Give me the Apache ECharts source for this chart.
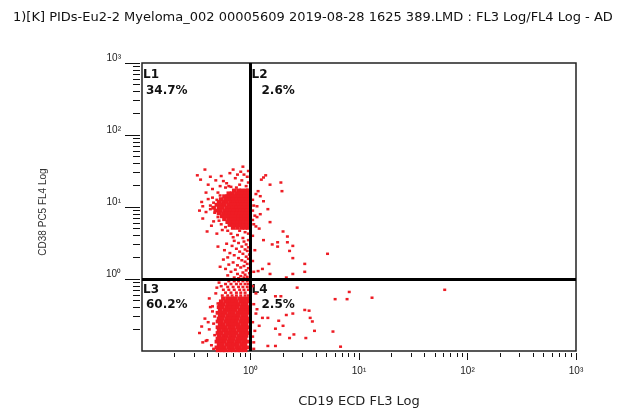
<!DOCTYPE html>
<html><head><meta charset="utf-8">
<script src="https://cdn.jsdelivr.net/npm/echarts@6/dist/echarts.min.js"></script>
<style>html,body{margin:0;padding:0;background:#fff}#c{width:638px;height:417px}</style>
</head><body><div id="c"></div>
<script>
const titleText = '1)[K] PIDs-Eu2-2 Myeloma_002 00005609 2019-08-28 1625 389.LMD : FL3 Log/FL4 Log - AD';
const xName = 'CD19 ECD FL3 Log';
const yName = 'CD38 PC5 FL4 Log';
const axisMin = 0.1, axisMax = 1000;
const majorTicks = [1, 10, 100, 1000];
const minorTicks = [0.2,0.3,0.4,0.5,0.6,0.7,0.8,0.9, 2,3,4,5,6,7,8,9, 20,30,40,50,60,70,80,90, 200,300,400,500,600,700,800,900];
const gateX = 1, gateY = 1;
const quadNames = ['L1', 'L2', 'L3', 'L4'];
const quadPercents = [34.7, 2.6, 60.2, 2.5];

// Events in log10 units: [log10 FL3 (CD19), log10 FL4 (CD38)]
// row lists: [log10 FL4, [log10 FL3 ...]]
const upperDenseRowsLog = [
 [1.23, [-0.15,-0.11,-0.08,-0.04,-0.02]],
 [1.19, [-0.20,-0.17,-0.13,-0.10,-0.07,-0.04,-0.02]],
 [1.15, [-0.24,-0.21,-0.17,-0.14,-0.11,-0.08,-0.05,-0.02]],
 [1.11, [-0.27,-0.23,-0.20,-0.16,-0.13,-0.10,-0.07,-0.04,-0.02]],
 [1.07, [-0.29,-0.25,-0.22,-0.18,-0.15,-0.12,-0.09,-0.06,-0.03]],
 [1.03, [-0.31,-0.27,-0.24,-0.20,-0.17,-0.14,-0.11,-0.08,-0.05,-0.02]],
 [0.99, [-0.34,-0.29,-0.26,-0.22,-0.19,-0.16,-0.13,-0.10,-0.07,-0.04,-0.02]],
 [0.95, [-0.32,-0.28,-0.24,-0.21,-0.18,-0.15,-0.12,-0.09,-0.06,-0.03]],
 [0.91, [-0.29,-0.25,-0.22,-0.19,-0.16,-0.13,-0.10,-0.07,-0.04,-0.02]],
 [0.87, [-0.26,-0.23,-0.20,-0.17,-0.14,-0.11,-0.08,-0.05,-0.02]],
 [0.83, [-0.24,-0.20,-0.17,-0.14,-0.11,-0.08,-0.05,-0.02]],
 [0.79, [-0.21,-0.18,-0.15,-0.12,-0.09,-0.06,-0.03]],
 [0.75, [-0.19,-0.15,-0.12,-0.09,-0.06,-0.03]],
 [0.71, [-0.16,-0.12,-0.08,-0.05,-0.02]]
];
const upperSparseLog = [
 [-0.49,1.44],[-0.42,1.52],[-0.37,1.42],[-0.46,1.38],[-0.32,1.37],[-0.25,1.36],[-0.16,1.52],[-0.07,1.56],
 [-0.06,1.45],[-0.12,1.45],[-0.20,1.29],[-0.28,1.29],[-0.39,1.31],[-0.35,1.25],[-0.41,1.20],[-0.30,1.20],
 [-0.39,1.11],[-0.44,1.01],[-0.37,1.02],[-0.41,0.93],[-0.33,0.92],[-0.30,0.86],[-0.34,0.80],[-0.27,0.76],
 [-0.40,0.66],[-0.26,0.68],[-0.18,0.63],[-0.23,0.72],[-0.16,0.58],[-0.23,1.27],[-0.18,1.28],[-0.13,1.27],
 [-0.10,1.31],[-0.04,1.29],[-0.02,1.34],[-0.08,1.37],[-0.14,1.40],[-0.03,1.42],[-0.22,1.33],[-0.35,1.13],
 [-0.34,1.06],[-0.37,0.97],[-0.29,0.81],[-0.21,0.67],[-0.10,0.67],[-0.05,0.65],[-0.02,0.63],[-0.12,0.61],
 [-0.07,0.57],[-0.28,1.16],[-0.31,1.10],[-0.45,1.07],[-0.47,0.95],[-0.19,1.47],[-0.27,1.43],[-0.09,1.49],
 [-0.02,1.50],[-0.36,0.74],[-0.31,0.63],[-0.44,0.84]
];
const bridgeLog = [
 [-0.15,0.53],[-0.06,0.52],[-0.02,0.54],[-0.22,0.49],[-0.11,0.50],[-0.04,0.48],[-0.17,0.46],[-0.08,0.45],
 [-0.02,0.44],[-0.13,0.42],[-0.05,0.41],[-0.24,0.40],[-0.10,0.38],[-0.03,0.39],[-0.19,0.36],[-0.07,0.35],
 [-0.01,0.34],[-0.15,0.33],[-0.04,0.31],[-0.21,0.30],[-0.11,0.29],[-0.02,0.28],[-0.25,0.27],[-0.08,0.26],
 [-0.05,0.24],[-0.16,0.23],[-0.03,0.21],[-0.20,0.20],[-0.12,0.19],[-0.06,0.18],[-0.09,0.16],[-0.02,0.15],
 [-0.23,0.14],[-0.14,0.13],[-0.04,0.12],[-0.18,0.10],[-0.07,0.09],[-0.01,0.08],[-0.12,0.07],[-0.05,0.06],
 [-0.21,0.05],[-0.09,0.04],[-0.03,0.03],[-0.15,0.02],[-0.06,0.02],[-0.11,0.01],[-0.28,0.17],[-0.30,0.45]
];
// upper part of the lower population (medium density, just under the gate)
const lowerMidRowsLog = [
 [-0.03, [-0.20,-0.15,-0.11,-0.07,-0.03]],
 [-0.07, [-0.23,-0.18,-0.13,-0.09,-0.05,-0.02]],
 [-0.11, [-0.21,-0.16,-0.11,-0.07,-0.03]],
 [-0.15, [-0.25,-0.20,-0.15,-0.10,-0.06,-0.02]],
 [-0.19, [-0.23,-0.18,-0.13,-0.09,-0.05]],
 [-0.23, [-0.26,-0.21,-0.17,-0.13,-0.09,-0.05,-0.02]]
];
const lowerDenseRowsLog = [
 [-0.27, [-0.25,-0.21,-0.17,-0.14,-0.10,-0.07,-0.03]],
 [-0.31, [-0.27,-0.23,-0.20,-0.16,-0.13,-0.09,-0.06,-0.02]],
 [-0.35, [-0.28,-0.25,-0.21,-0.18,-0.14,-0.11,-0.07,-0.04]],
 [-0.39, [-0.29,-0.26,-0.22,-0.19,-0.15,-0.12,-0.08,-0.05,-0.02]],
 [-0.43, [-0.28,-0.24,-0.21,-0.17,-0.14,-0.10,-0.07,-0.03]],
 [-0.47, [-0.30,-0.26,-0.23,-0.19,-0.16,-0.12,-0.09,-0.05,-0.02]],
 [-0.51, [-0.28,-0.25,-0.21,-0.18,-0.14,-0.11,-0.07,-0.04]],
 [-0.55, [-0.29,-0.26,-0.22,-0.19,-0.15,-0.12,-0.08,-0.05,-0.02]],
 [-0.59, [-0.30,-0.27,-0.23,-0.20,-0.16,-0.13,-0.09,-0.06,-0.03]],
 [-0.63, [-0.28,-0.25,-0.21,-0.18,-0.14,-0.11,-0.07,-0.04]],
 [-0.67, [-0.30,-0.26,-0.23,-0.19,-0.16,-0.12,-0.09,-0.05,-0.02]],
 [-0.71, [-0.29,-0.25,-0.22,-0.18,-0.15,-0.11,-0.08,-0.04]],
 [-0.75, [-0.30,-0.27,-0.23,-0.20,-0.16,-0.13,-0.09,-0.06,-0.03]],
 [-0.79, [-0.29,-0.25,-0.22,-0.18,-0.15,-0.11,-0.08,-0.04]],
 [-0.83, [-0.30,-0.26,-0.23,-0.19,-0.16,-0.12,-0.09,-0.05]],
 [-0.87, [-0.31,-0.27,-0.24,-0.20,-0.17,-0.13,-0.10,-0.06,-0.03]],
 [-0.91, [-0.29,-0.26,-0.22,-0.19,-0.15,-0.12,-0.08,-0.05]],
 [-0.95, [-0.31,-0.27,-0.24,-0.20,-0.17,-0.13,-0.10,-0.06,-0.03]],
 [-0.99, [-0.30,-0.26,-0.23,-0.19,-0.16,-0.12,-0.09,-0.05]]
];
const lowerSparseLog = [
 [-0.42,-0.55],[-0.38,-0.70],[-0.35,-0.45],[-0.40,-0.85],[-0.34,-0.62],[-0.36,-0.92],[-0.31,-0.12],[-0.33,-0.78],
 [-0.45,-0.66],[-0.29,-0.05],[-0.32,-0.20],[-0.35,-0.38],[-0.34,-0.97],[-0.38,-0.27],[-0.44,-0.88],[-0.39,-0.60],
 [-0.41,-0.86],[-0.37,-0.39],[-0.33,-0.52],[-0.47,-0.75],[-0.30,-0.34],[-0.27,-0.10]
];
const q2Log = [
 [0.12,1.41],[0.18,1.31],[0.28,1.34],[0.29,1.22],[0.09,1.15],[0.12,1.08],[0.06,1.01],[0.16,0.97],
 [0.09,0.90],[0.18,0.79],[0.30,0.66],[0.25,0.51],[0.34,0.59],[0.10,1.38],[0.14,1.44],[0.07,1.22],
 [0.05,0.73],[0.12,0.54],[0.20,0.48],[0.25,0.45],[0.34,0.51],[0.39,0.46],[0.36,0.39],[0.39,0.29],
 [0.71,0.35],[0.17,0.21],[0.50,0.21],[0.11,0.14],[0.07,0.11],[0.18,0.07],[0.39,0.07],[0.50,0.10],
 [0.33,0.02],[0.02,1.10],[0.03,1.02],[0.02,0.95],[0.04,0.88],[0.02,0.82],[0.03,0.76],[0.05,1.18],
 [0.02,0.60],[0.04,0.40],[0.02,0.25],[0.03,0.10],[0.06,0.86],[0.08,0.70]
];
const q4Log = [
 [0.43,-0.12],[0.91,-0.18],[1.12,-0.26],[1.79,-0.15],[0.78,-0.28],[0.89,-0.28],[0.23,-0.24],[0.28,-0.24],
 [0.50,-0.43],[0.54,-0.44],[0.05,-0.48],[0.11,-0.54],[0.16,-0.54],[0.26,-0.58],[0.55,-0.54],[0.57,-0.59],
 [0.33,-0.50],[0.39,-0.48],[0.23,-0.69],[0.30,-0.65],[0.59,-0.72],[0.76,-0.73],[0.27,-0.77],[0.36,-0.82],
 [0.40,-0.77],[0.51,-0.82],[0.16,-0.93],[0.23,-0.93],[0.83,-0.94],[0.02,-0.10],[0.03,-0.35],[0.02,-0.60],
 [0.04,-0.72],[0.03,-0.88],[0.06,-0.42],[0.02,-0.80],[0.05,-0.20],[0.08,-0.65],[0.03,-0.97]
];

const rowsToEvents = rows => rows.flatMap(([y, xs]) => xs.map(x => [x, y]));
const toLinear = list => list.map(([a, b]) => [Math.pow(10, a), Math.pow(10, b)]);
const denseEvents = toLinear([].concat(rowsToEvents(upperDenseRowsLog), rowsToEvents(lowerDenseRowsLog)));
const sparseEvents = toLinear([].concat(upperSparseLog, bridgeLog, rowsToEvents(lowerMidRowsLog), lowerSparseLog, q2Log, q4Log));

const sup = ['\u2070', '\u00B9', '\u00B2', '\u00B3'];
const fmt = v => '10' + sup[Math.round(Math.log10(v))];
const tickLine = { color: '#111', width: 1 };
const labelStyle = { color: '#222', fontSize: 10, fontFamily: 'Liberation Sans' };

function makeAxes(isX) {
  const base = {
    type: 'log', logBase: 10, min: axisMin, max: axisMax, offset: 2,
    position: isX ? 'bottom' : 'left',
    axisLine: { show: false }, splitLine: { show: false }, minorTick: { show: false }
  };
  const major = Object.assign({}, base, {
    axisTick: { show: true, customValues: majorTicks, length: isX ? 7 : 15, lineStyle: tickLine },
    axisLabel: Object.assign({ customValues: majorTicks, formatter: fmt, margin: isX ? 13 : 19 },
      labelStyle, isX ? {} : { verticalAlign: 'bottom' }),
    name: isX ? xName : yName,
    nameLocation: 'middle',
    nameGap: isX ? 42 : 92,
    nameTextStyle: isX
      ? { fontFamily: 'DejaVu Sans', fontSize: 13, color: '#222' }
      : { fontFamily: 'Liberation Sans', fontSize: 10, color: '#333', padding: [0, 10, 0, 0] }
  });
  const minor = Object.assign({}, base, {
    axisTick: { show: true, customValues: minorTicks, length: isX ? 4 : 7, lineStyle: tickLine },
    axisLabel: { show: false }
  });
  return [major, minor];
}

const chart = echarts.init(document.getElementById('c'), null, { renderer: 'canvas' });
chart.setOption({
  animation: false,
  backgroundColor: '#fff',
  title: {
    text: titleText, left: 8, top: 6,
    textStyle: { fontFamily: 'DejaVu Sans', fontSize: 13, fontWeight: 'normal', color: '#111' }
  },
  grid: { left: 142, right: 62, top: 63, bottom: 66, show: true, borderColor: '#222', borderWidth: 1.5, backgroundColor: 'transparent' },
  xAxis: makeAxes(true),
  yAxis: makeAxes(false),
  series: [{
    type: 'scatter', xAxisIndex: 0, yAxisIndex: 0,
    data: denseEvents,
    symbol: 'rect', symbolSize: [4.6, 3.8],
    itemStyle: { color: '#ee1c24', opacity: 1 },
    clip: true, silent: true
  }, {
    type: 'scatter', xAxisIndex: 0, yAxisIndex: 0,
    data: sparseEvents,
    symbol: 'rect', symbolSize: [3, 2.5],
    itemStyle: { color: '#ee1c24', opacity: 1 },
    clip: true, silent: true,
    markLine: {
      silent: true, symbol: ['none', 'none'], label: { show: false },
      lineStyle: { color: '#000', width: 3, type: 'solid' },
      data: [{ xAxis: gateX }, { yAxis: gateY }]
    }
  }]
});

const p0 = chart.convertToPixel({ xAxisIndex: 0, yAxisIndex: 0 }, [axisMin, axisMax]);
const pg = chart.convertToPixel({ xAxisIndex: 0, yAxisIndex: 0 }, [gateX, gateY]);
const quadAnchors = [[p0[0], p0[1]], [pg[0], p0[1]], [p0[0], pg[1]], [pg[0], pg[1]]];
const bold = { fontFamily: 'DejaVu Sans', fontWeight: 'bold', fontSize: 12, fill: '#111' };
const graphics = [];
quadNames.forEach((n, i) => {
  const [ax, ay] = quadAnchors[i];
  const lower = i >= 2;
  graphics.push({ type: 'text', left: ax + 1, top: ay + (lower ? 5 : 6), style: Object.assign({ text: n }, bold) });
  graphics.push({ type: 'text', left: ax + (i % 2 ? 11 : 4), top: ay + (lower ? 20 : 22), style: Object.assign({ text: quadPercents[i].toFixed(1) + '%' }, bold) });
});
chart.setOption({ graphic: graphics });
</script>
</body></html>
